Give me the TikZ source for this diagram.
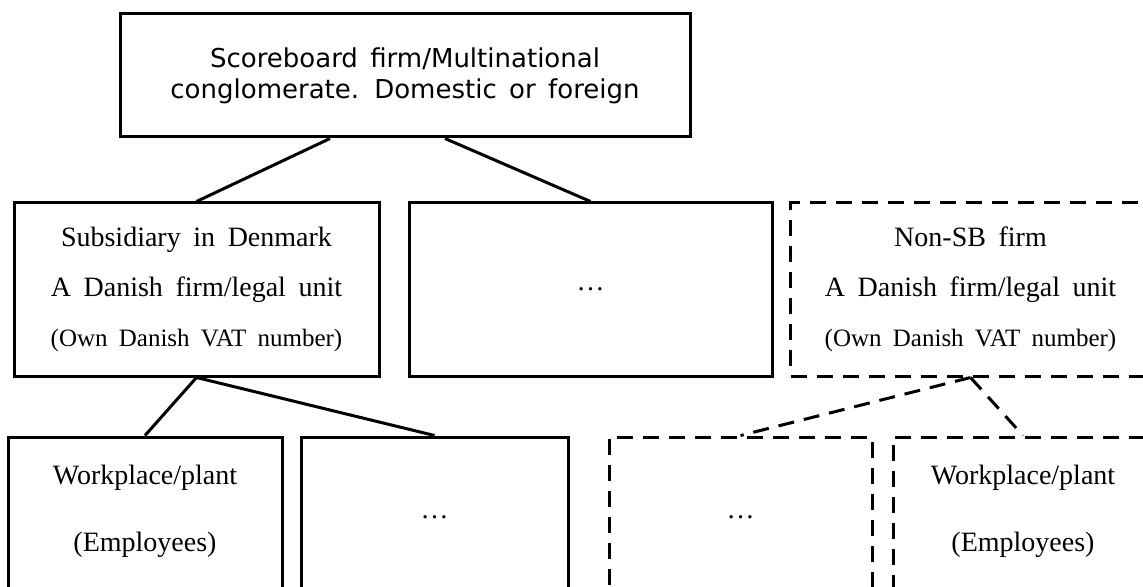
\documentclass[tikz,border=0pt]{standalone}
\usepackage{fontspec}
\setmainfont{Liberation Serif}[WordSpace=1.8]
\newfontfamily\headfont{DejaVu Sans}[WordSpace=1.5]
\usetikzlibrary{positioning,calc}
\tikzset{
    unit/.style={
           rectangle,
           draw=black, line width=1.5pt,
           minimum width=#1,
           inner sep=0pt,
           align=center,
           font=\fontsize{14}{25}\selectfont
           },
    dunit/.style={
           unit=#1,
           dash pattern=on 8pt off 5pt
           },
    txt/.style={
           align=center,
           inner sep=0pt,
           font=\fontsize{14}{33.5}\selectfont
           },
    link/.style={
           line width=1.5pt
           },
    dlink/.style={
           link,
           dash pattern=on 8pt off 5pt
           }
}

\begin{document}
\begin{tikzpicture}[x=0.5pt, y=-0.5pt, on grid]
   \useasboundingbox (0,0) rectangle (1143,587);
   \clip (0,0) rectangle (1143,587);
   % firm level
   \node[unit=285pt, minimum height=61.5pt, font=\headfont\fontsize{13}{15.5}\selectfont]
        (top) at (405,75.5) {Scoreboard firm/Multinational\\conglomerate. Domestic or foreign};
   % legal units
   \node[unit=182.5pt, minimum height=86.5pt] (sub) at (196.5,289.5)
        {Subsidiary in Denmark\\A Danish firm/legal unit\\{\fontsize{12.5}{25}\selectfont (Own Danish VAT number)}};
   \node[unit=181.5pt, minimum height=86.5pt] (mid) [right=197pt of sub] {…};
   \node[dunit=180pt, minimum height=86.5pt] (nonsb) [right=190pt of mid]
        {Non-SB firm\\A Danish firm/legal unit\\{\fontsize{12.5}{25}\selectfont (Own Danish VAT number)}};
   % workplaces
   \node[unit=137pt, minimum height=100pt] (work) at (145,537) {};
   \node[unit=133.5pt, minimum height=100pt] (dots) [right=144.75pt of work] {};
   \node[dunit=131.5pt, minimum height=100pt] (ddots) [right=153pt of dots] {};
   \node[dunit=130pt, minimum height=100pt] (dwork) [right=141.25pt of ddots] {};
   \node[txt] (worktxt) [below=14.5pt of work.north] {Workplace/plant\\(Employees)};
   \node[txt] (dotstxt) [below=40pt of dots.north] {…};
   \node[txt] (ddotstxt) [below=40pt of ddots.north] {…};
   \node[txt] (dworktxt) [below=14.5pt of dwork.north] {Workplace/plant\\(Employees)};
   \path[link]
    ($(top.south)+(-75,0)$) edge (sub.north)
    ($(top.south)+(40,0)$) edge (mid.north)
    (sub.south) edge (work.north)
    (sub.south) edge (dots.north);
   \path[dlink]
    (nonsb.south) edge (ddots.north)
    (nonsb.south) edge (dwork.north);
\end{tikzpicture}
\end{document}
